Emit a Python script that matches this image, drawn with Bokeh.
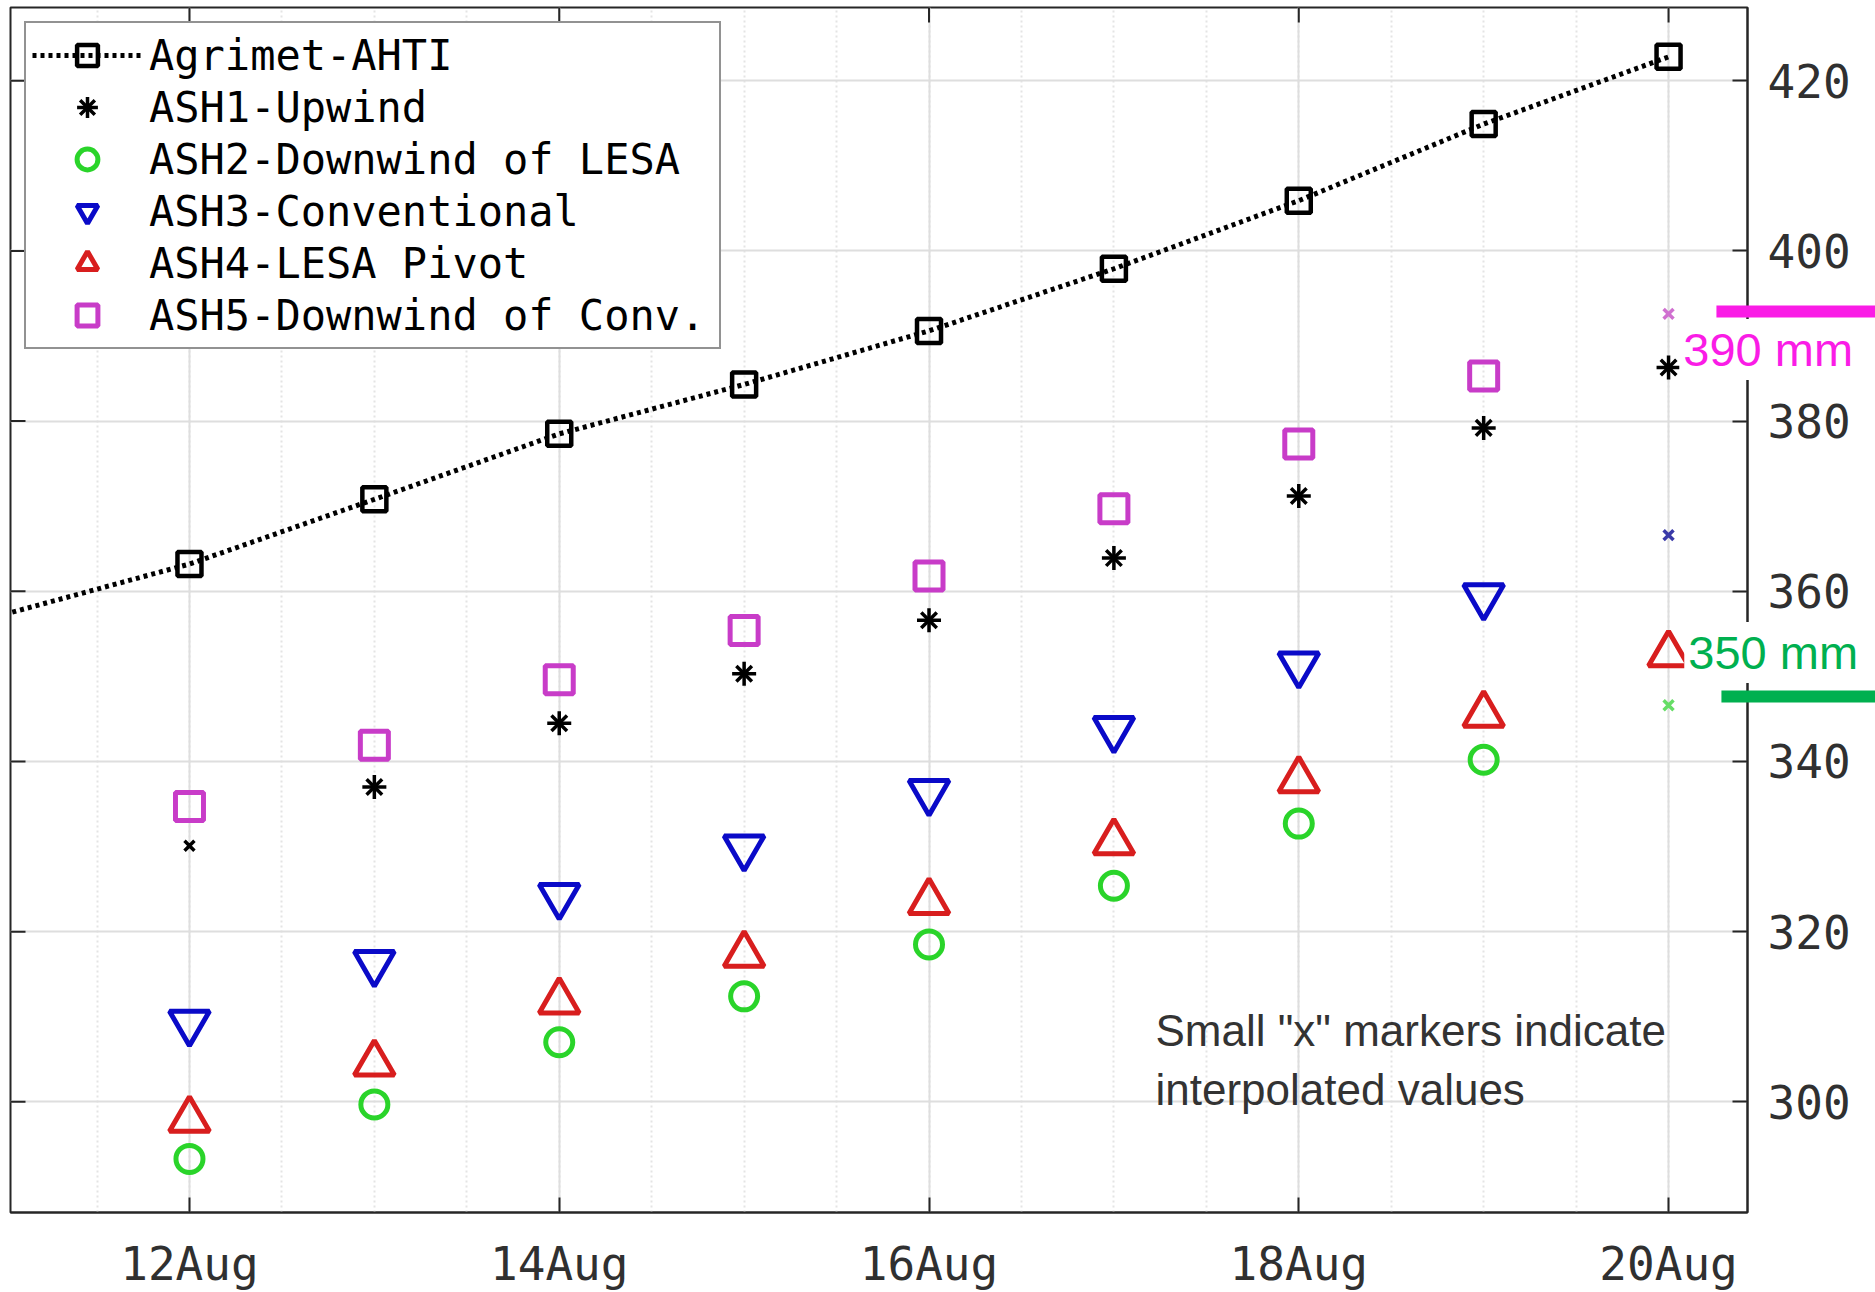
from bokeh.plotting import figure
from bokeh.models import FixedTicker, Legend, LegendItem
from bokeh.core.properties import value
from bokeh.embed import file_html
from bokeh.resources import INLINE

NaN = float("nan")

# ---------------- data ----------------
days = [12, 13, 14, 15, 16, 17, 18, 19, 20]
agrimet_days = [11, 12, 13, 14, 15, 16, 17, 18, 19, 20]
agrimet = [357.3, 363.2, 370.8, 378.5, 384.3, 390.6, 397.9, 405.9, 414.9, 422.8]
ash1 = [NaN, 337.0, 344.5, 350.3, 356.6, 363.9, 371.2, 379.2, 386.3]
ash2 = [293.3, 299.7, 307.0, 312.4, 318.5, 325.4, 332.7, 340.2, NaN]
ash3 = [309.3, 316.3, 324.2, 329.9, 336.4, 343.8, 351.4, 359.4, NaN]
ash4 = [297.9, 304.5, 311.8, 317.3, 323.5, 330.5, 337.8, 345.5, 352.6]
ash5 = [334.7, 341.9, 349.6, 355.4, 361.8, 369.7, 377.3, 385.3, NaN]

ash1_interp_days = [12]
ash1_interp = [330.1]
ash2_interp_days = [20]
ash2_interp = [346.6]
ash3_interp_days = [20]
ash3_interp = [366.6]
ash5_interp_days = [20]
ash5_interp = [392.6]

x_ticks = [12, 14, 16, 18, 20]
x_tick_labels = ["12Aug", "14Aug", "16Aug", "18Aug", "20Aug"]
y_ticks = [300, 320, 340, 360, 380, 400, 420]

labels = ["Agrimet-AHTI", "ASH1-Upwind", "ASH2-Downwind of LESA",
          "ASH3-Conventional", "ASH4-LESA Pivot", "ASH5-Downwind of Conv."]

note_lines = ['Small "x" markers indicate', "interpolated values"]
limit_labels = ["390 mm", "350 mm"]

# ---------------- style ----------------
AX = "#262626"
GREEN = "#2ad42a"
BLUE = "#0a0ac8"
RED = "#d81e1e"
MAG = "#c83cc8"
MAGENTA = "#fa1ce6"
OGREEN = "#00b04f"
MONO = "DejaVu Sans Mono"

X0, X1 = 11.032, 20.427
Y0, Y1 = 287.0, 428.6
FW, FH = 1737, 1205

p = figure(frame_width=FW, frame_height=FH,
           x_range=(X0, X1), y_range=(Y0, Y1),
           output_backend="svg", toolbar_location=None,
           x_axis_location="below", y_axis_location="right",
           min_border_left=10, min_border_top=7,
           min_border_right=128, min_border_bottom=80)
p.background_fill_color = "white"
p.border_fill_color = "white"
p.outline_line_color = AX
p.outline_line_width = 2

minor_x = [11 + 0.5 * k for k in range(21)]
xticker = FixedTicker(ticks=x_ticks, minor_ticks=minor_x)
yticker = FixedTicker(ticks=y_ticks, minor_ticks=[])


def style_axis(ax):
    ax.axis_line_color = AX
    ax.axis_line_width = 2
    ax.major_tick_line_color = AX
    ax.major_tick_line_width = 2
    ax.major_tick_in = 15
    ax.major_tick_out = 0
    ax.minor_tick_in = 0
    ax.minor_tick_out = 0
    ax.minor_tick_line_color = None
    ax.major_label_text_font = MONO
    ax.major_label_text_font_size = "46px"
    ax.major_label_text_color = "#303030"


xb = p.xaxis[0]
xb.ticker = xticker
xb.major_label_overrides = {t: s for t, s in zip(x_ticks, x_tick_labels)}
style_axis(xb)
xb.major_label_standoff = 24

yr = p.yaxis[0]
yr.ticker = yticker
style_axis(yr)
yr.major_label_standoff = 20

p.xgrid.ticker = xticker
p.xgrid.grid_line_color = "#dedede"
p.xgrid.grid_line_width = 2
p.xgrid.minor_grid_line_color = "#e4e4e4"
p.xgrid.minor_grid_line_dash = "2 3"
p.xgrid.minor_grid_line_width = 2
p.ygrid.ticker = yticker
p.ygrid.grid_line_color = "#dedede"
p.ygrid.grid_line_width = 2

# inward ticks on the top and left edges of the box (15 px long)
tick_dx = 15 * (X1 - X0) / FW
tick_dy = 15 * (Y1 - Y0) / FH
p.segment(x0=x_ticks, x1=x_ticks, y0=[Y1] * len(x_ticks),
          y1=[Y1 - tick_dy] * len(x_ticks), line_color=AX, line_width=2)
p.segment(x0=[X0] * len(y_ticks), x1=[X0 + tick_dx] * len(y_ticks),
          y0=y_ticks, y1=y_ticks, line_color=AX, line_width=2)

# ---------------- glyphs ----------------
r_ag_line = p.line(agrimet_days, agrimet, line_color="black", line_width=5,
                   line_dash="4 4")
r_ag_pts = p.scatter(agrimet_days[1:], agrimet[1:], marker="square", size=24,
                     fill_color=None, line_color="black", line_width=4.5)
r1a = p.scatter(days, ash1, marker="cross", size=24, line_color="black",
                line_width=3.5)
r1b = p.scatter(days, ash1, marker="x", size=22, line_color="black",
                line_width=3.5)
r2 = p.scatter(days, ash2, marker="circle", size=27, fill_color=None,
               line_color=GREEN, line_width=5)
r3 = p.scatter(days, ash3, marker="inverted_triangle", size=40, fill_color=None,
               line_color=BLUE, line_width=5)
r4 = p.scatter(days, ash4, marker="triangle", size=40, fill_color=None,
               line_color=RED, line_width=5)
r5 = p.scatter(days, ash5, marker="square", size=28, fill_color=None,
               line_color=MAG, line_width=5)

p.scatter(ash1_interp_days, ash1_interp, marker="x", size=14, line_color="black", line_width=3.5)
p.scatter(ash2_interp_days, ash2_interp, marker="x", size=14, line_color="#66dd66", line_width=3.5)
p.scatter(ash3_interp_days, ash3_interp, marker="x", size=14, line_color="#3a3aa8", line_width=3.5)
p.scatter(ash5_interp_days, ash5_interp, marker="x", size=14, line_color="#d070d0", line_width=3.5)

legend = Legend(items=[
    LegendItem(label=labels[0], renderers=[r_ag_line, r_ag_pts]),
    LegendItem(label=labels[1], renderers=[r1a, r1b]),
    LegendItem(label=labels[2], renderers=[r2]),
    LegendItem(label=labels[3], renderers=[r3]),
    LegendItem(label=labels[4], renderers=[r4]),
    LegendItem(label=labels[5], renderers=[r5]),
], location="top_left")
legend.margin = 14
legend.padding = 6
legend.spacing = 0
legend.glyph_width = 110
legend.glyph_height = 52
legend.label_height = 52
legend.label_width = 564
legend.label_standoff = 7
legend.label_text_font = MONO
legend.label_text_font_size = "42px"
legend.label_text_color = "black"
legend.border_line_color = AX
legend.border_line_width = 2
legend.background_fill_color = "white"
legend.background_fill_alpha = 1.0
p.add_layout(legend, "center")

# ---------------- annotations ----------------
p.text(x=[17.225, 17.225], y=[308.4, 301.4], text=note_lines,
       text_font=value("Liberation Sans"), text_font_size="44px",
       text_color="#333333", text_align="left", text_baseline="alphabetic")

# limit markers on the right edge (drawn above the axes, not clipped)
p.text(x=[20.058, 20.085], y=[388.4, 352.8], text=limit_labels,
       text_font=value("Liberation Sans"), text_font_size="47px",
       text_color=[MAGENTA, OGREEN], text_align="left", text_baseline="middle",
       background_fill_color="white", padding=4, level="overlay")
p.quad(left=[20.259, 20.286], right=[21.2, 21.2],
       bottom=[392.17, 346.93], top=[393.57, 348.34],
       fill_color=[MAGENTA, OGREEN], line_color=None, level="overlay")

open("out.html", "w").write(file_html(p, INLINE))
